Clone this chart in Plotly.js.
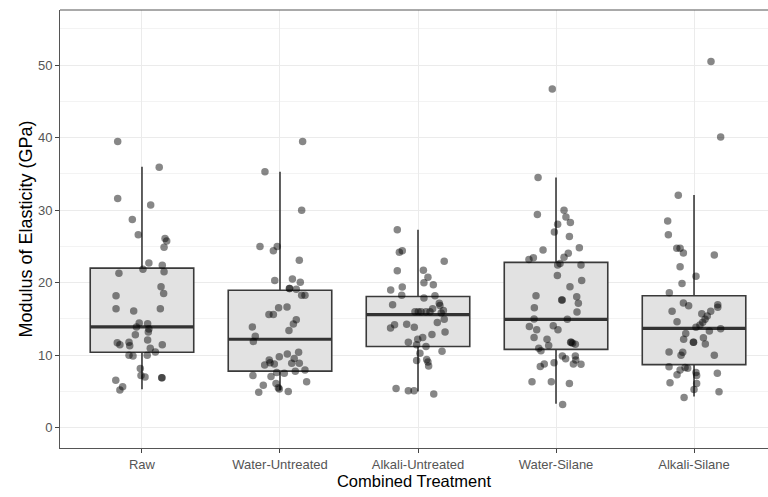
<!DOCTYPE html>
<html>
<head>
<meta charset="utf-8">
<script src="https://cdn.plot.ly/plotly-3.0.1.min.js"></script>
<style>html,body{margin:0;padding:0;background:#fff;}#chart{width:768px;height:497px;}</style>
</head>
<body>
<div id="chart"></div>
<script>
// Categories
const categories = ["Raw", "Water-Untreated", "Alkali-Untreated", "Water-Silane", "Alkali-Silane"];

// Box statistics (GPa)
const q1Values      = [10.4, 7.8, 11.2, 10.8, 8.7];
const medianValues  = [13.9, 12.2, 15.6, 14.95, 13.7];
const q3Values      = [22.0, 18.95, 18.1, 22.8, 18.2];
const lowerWhiskers = [5.3, 5.2, 5.0, 3.3, 4.3];
const upperWhiskers = [36.0, 35.3, 27.3, 34.5, 32.1];

// Jittered observations: values and horizontal jitter offsets (category units)
const rawValues = [39.45,35.9,31.6,30.7,28.7,26.6,26.1,25.75,24.9,22.7,22.4,21.85,21.5,21.3,19.45,18.5,18.2,16.4,16.1,16.4,14.45,14.35,13.9,13.6,13.2,12.8,12.1,11.7,11.45,11.8,11.3,11.45,10.95,10.45,10.0,9.9,10.0,8.15,7.2,7.0,6.9,6.9,6.55,5.65,5.2];
const rawJitter = [-0.176,0.125,-0.176,0.063,-0.07,-0.027,0.167,0.179,0.16,0.05,0.147,0.007,0.16,-0.167,0.138,0.157,-0.188,-0.188,-0.06,0.133,-0.02,0.041,-0.04,0.05,0.046,-0.048,0.041,-0.179,-0.16,-0.094,-0.089,0.147,0.06,0.097,-0.094,-0.065,0.038,-0.012,-0.007,0.022,0.143,0.145,-0.19,-0.14,-0.16];

const waterUntreatedValues = [39.45,35.3,30.0,24.97,25.0,24.4,23.1,20.5,20.05,20.3,19.2,19.2,19.1,18.25,18.25,16.55,16.65,15.6,15.6,14.9,14.3,13.4,13.9,12.6,11.9,9.8,10.15,10.4,9.55,8.9,8.9,9.35,8.95,8.65,8.8,7.95,7.8,7.5,7.6,7.2,7.05,6.35,5.85,6.1,5.5,5.35,4.9,5.0];
const waterUntreatedJitter = [0.164,-0.109,0.157,-0.145,-0.02,-0.048,0.14,0.09,0.147,-0.038,0.068,0.07,0.118,0.157,0.181,-0.01,0.051,-0.08,-0.048,0.118,0.097,0.065,-0.2,-0.179,-0.193,-0.005,0.053,0.135,0.103,0.085,0.14,-0.078,-0.072,-0.111,-0.041,0.181,0.111,0.031,-0.024,-0.196,-0.065,0.193,-0.121,-0.029,-0.012,-0.005,-0.154,0.06];

const alkaliUntreatedValues = [27.3,24.2,24.4,22.95,21.65,21.7,20.75,20.0,19.7,19.0,19.4,18.25,17.9,18.2,16.95,17.15,16.85,16.4,16.15,15.8,16.0,16.0,16.0,16.0,16.0,14.95,14.5,14.25,13.85,14.2,13.75,13.2,12.85,12.45,12.2,11.8,11.45,11.2,10.25,10.55,9.25,9.4,9.05,8.5,5.4,5.1,5.1,4.65];
const alkaliUntreatedJitter = [-0.15,-0.135,-0.114,0.19,-0.15,0.039,0.072,0.043,0.111,-0.198,-0.114,-0.118,0.043,0.123,-0.184,0.154,0.159,0.106,0.184,0.168,-0.022,0.002,0.022,0.058,0.087,0.19,0.14,-0.082,-0.027,-0.17,-0.199,0.196,0.101,0.034,-0.002,-0.07,-0.01,0.058,0.014,0.174,-0.01,0.063,0.072,0.077,-0.159,-0.07,-0.029,0.114];

const waterSilaneValues = [46.7,34.5,29.4,30.0,29.05,28.3,28.05,27.0,26.35,24.8,24.5,24.05,23.45,23.2,23.5,22.65,22.45,22.45,21.0,20.3,19.45,18.2,18.05,17.6,17.6,17.15,16.55,15.95,15.0,14.95,14.05,13.95,13.5,13.5,12.45,12.2,11.8,11.8,11.65,11.5,11.35,10.95,10.6,9.9,9.5,9.9,9.35,8.8,8.75,8.95,8.8,8.45,6.35,6.35,6.1,3.2];
const waterSilaneJitter = [-0.027,-0.13,-0.135,0.058,0.072,0.104,0.012,-0.012,0.097,0.169,-0.094,0.089,-0.164,-0.196,0.058,0.029,0.012,0.181,0.01,0.186,0.101,-0.145,0.15,0.041,0.045,0.162,-0.157,0.152,-0.159,0.082,-0.02,-0.193,0.014,-0.14,-0.159,-0.065,0.106,0.11,0.12,0.14,-0.053,-0.125,-0.109,0.046,0.07,0.14,0.143,0.126,0.181,-0.014,-0.085,-0.114,-0.174,-0.034,0.097,0.048];

const alkaliSilaneValues = [50.5,40.1,32.05,28.5,26.6,24.75,24.75,24.1,23.8,22.2,20.9,19.9,18.6,17.2,16.8,16.95,16.6,16.05,16.05,15.7,15.4,14.95,14.55,14.6,14.15,13.85,13.65,13.35,13.0,12.2,12.4,11.8,11.8,11.55,10.45,10.4,10.0,10.0,8.4,7.95,8.3,8.2,7.6,7.2,7.3,7.5,6.1,6.2,5.25,4.95,4.15];
const alkaliSilaneJitter = [0.123,0.193,-0.114,-0.191,-0.186,-0.125,-0.101,-0.077,0.147,-0.101,0.014,-0.087,-0.179,-0.077,-0.039,0.172,0.172,-0.159,0.121,0.056,0.096,0.08,0.063,-0.123,0.043,0.014,0.193,0.111,-0.06,-0.075,0.068,-0.005,-0.003,0.082,-0.181,-0.082,-0.094,0.147,-0.181,-0.101,-0.065,-0.046,0.014,0.019,-0.123,0.169,0.019,-0.174,0,0.181,-0.072];

// Y axis ticks
const yTicks = [0, 10, 20, 30, 40, 50];

const groupValues = [rawValues, waterUntreatedValues, alkaliUntreatedValues, waterSilaneValues, alkaliSilaneValues];
const groupJitter = [rawJitter, waterUntreatedJitter, alkaliUntreatedJitter, waterSilaneJitter, alkaliSilaneJitter];
const catIdx = categories.map((c, i) => i);
const boxWidth = 0.75;

const boxTrace = {
  type: 'box',
  x: catIdx,
  q1: q1Values,
  median: medianValues,
  q3: q3Values,
  lowerfence: lowerWhiskers,
  upperfence: upperWhiskers,
  width: boxWidth,
  whiskerwidth: 0,
  boxpoints: false,
  fillcolor: '#e2e2e2',
  line: {color: '#3a3a3a', width: 1.6},
  hoverinfo: 'skip',
  showlegend: false
};

// thick median lines (ggplot fatten)
const mx = [], my = [];
catIdx.forEach((i) => {
  mx.push(i - boxWidth / 2, i + boxWidth / 2, null);
  my.push(medianValues[i], medianValues[i], null);
});
const medianTrace = {
  type: 'scatter', mode: 'lines', x: mx, y: my,
  line: {color: '#333333', width: 3.2},
  hoverinfo: 'skip', showlegend: false
};

const px = [], py = [];
groupValues.forEach((vals, g) => {
  vals.forEach((v, k) => { px.push(g + groupJitter[g][k]); py.push(v); });
});
const pointTrace = {
  type: 'scatter', mode: 'markers', x: px, y: py,
  marker: {color: 'rgba(0,0,0,0.47)', size: 7.5, line: {width: 0}},
  hoverinfo: 'skip', showlegend: false
};

const layout = {
  width: 768, height: 497,
  margin: {l: 60, r: 0, t: 10, b: 49},
  paper_bgcolor: '#ffffff', plot_bgcolor: '#ffffff',
  showlegend: false,
  xaxis: {
    range: [-0.594, 4.536],
    tickmode: 'array', tickvals: catIdx, ticktext: categories,
    ticks: 'outside', ticklen: 4, tickcolor: '#444', tickwidth: 1,
    showgrid: true, gridcolor: '#ebebeb', gridwidth: 1,
    zeroline: false,
    showline: true, linecolor: '#555', linewidth: 1,
    tickfont: {family: 'Liberation Sans, Arial, sans-serif', size: 13, color: '#555555'},
    title: {text: 'Combined Treatment', standoff: 4, font: {family: 'Liberation Sans, Arial, sans-serif', size: 16.5, color: '#000000'}},
    automargin: false
  },
  yaxis: {
    range: [-2.8, 57.6],
    tickmode: 'array', tickvals: yTicks,
    ticks: 'outside', ticklen: 4, tickcolor: '#444', tickwidth: 1,
    showgrid: true, gridcolor: '#ebebeb', gridwidth: 1,
    minor: {tickmode: 'linear', tick0: 5, dtick: 10, showgrid: true, gridcolor: '#f3f3f3', gridwidth: 1, ticks: ''},
    zeroline: false,
    showline: true, linecolor: '#555', linewidth: 1,
    tickfont: {family: 'Liberation Sans, Arial, sans-serif', size: 13, color: '#555555'},
    title: {text: 'Modulus of Elasticity (GPa)', standoff: 0, font: {family: 'Liberation Sans, Arial, sans-serif', size: 18, color: '#000000'}},
    automargin: false
  },
  shapes: [
    {type: 'line', xref: 'paper', yref: 'paper', x0: 0, x1: 1, y0: 1, y1: 1, line: {color: '#555', width: 1}}
  ]
};

Plotly.newPlot('chart', [boxTrace, medianTrace, pointTrace], layout, {displayModeBar: false, staticPlot: true});
</script>
</body>
</html>
